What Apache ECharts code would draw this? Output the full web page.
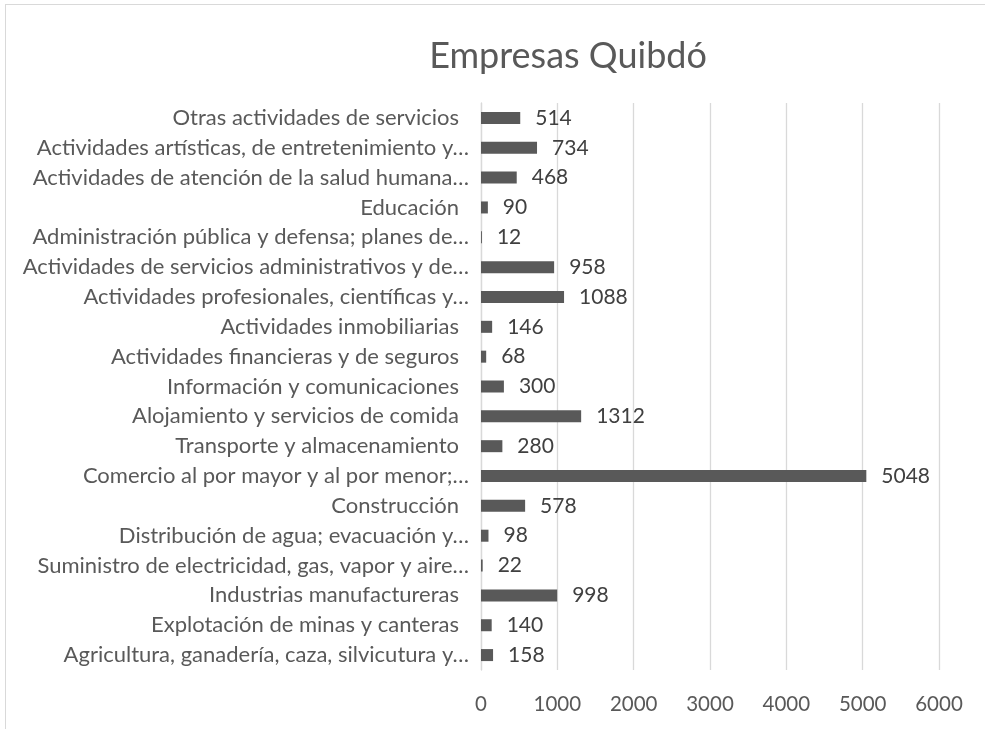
<!DOCTYPE html>
<html>
<head>
<meta charset="utf-8">
<script src="https://cdn.jsdelivr.net/npm/echarts@6/dist/echarts.min.js"></script>
<style>
html,body{margin:0;padding:0;background:#fff;}
#frame{position:absolute;left:5px;top:4px;width:990px;height:740px;border:1.5px solid #d9d9d9;box-sizing:border-box;}
#chart{position:absolute;left:0;top:0;width:985px;height:729px;}
</style>
</head>
<body>
<div id="frame"></div>
<div id="chart"></div>
<script>
const title = 'Empresas Quibdó';
// bottom-to-top order (as in the reference)
const categories = [
  'Agricultura, ganadería, caza, silvicutura y…',
  'Explotación de minas y canteras',
  'Industrias manufactureras',
  'Suministro de electricidad, gas, vapor y aire…',
  'Distribución de agua; evacuación y…',
  'Construcción',
  'Comercio al por mayor y al por menor;…',
  'Transporte y almacenamiento',
  'Alojamiento y servicios de comida',
  'Información y comunicaciones',
  'Actividades financieras y de seguros',
  'Actividades inmobiliarias',
  'Actividades profesionales, científicas y…',
  'Actividades de servicios administrativos y de…',
  'Administración pública y defensa; planes de…',
  'Educación',
  'Actividades de atención de la salud humana…',
  'Actividades artísticas, de entretenimiento y…',
  'Otras actividades de servicios'
];
const values = [158, 140, 998, 22, 98, 578, 5048, 280, 1312, 300, 68, 146, 1088, 958, 12, 90, 468, 734, 514];
const xTicks = [0, 1000, 2000, 3000, 4000, 5000, 6000];

const FONT = 'Lato';
const chart = echarts.init(document.getElementById('chart'));
chart.setOption({
  animation: false,
  backgroundColor: 'transparent',
  title: {
    text: title, left: 563, top: 33, textAlign: 'center',
    textStyle: {fontFamily: FONT, fontSize: 36, fontWeight: 'normal', color: '#595959'}
  },
  grid: {left: 481, right: 46, top: 103, bottom: 59, containLabel: false},
  xAxis: {
    type: 'value', min: xTicks[0], max: xTicks[xTicks.length - 1], interval: 1000,
    axisLine: {show: false}, axisTick: {show: false},
    splitLine: {show: true, lineStyle: {color: '#d9d9d9', width: 1.3}},
    axisLabel: {fontFamily: FONT, fontSize: 20.5, color: '#595959', margin: 24, formatter: v => String(v)}
  },
  yAxis: {
    type: 'category', data: categories,
    axisLine: {show: true, lineStyle: {color: '#d9d9d9', width: 1.3}},
    axisTick: {show: false},
    axisLabel: {
      fontFamily: FONT, fontSize: 22, color: '#595959', margin: 12, interval: 0,
      formatter: v => v.endsWith('…') ? v : '{p|' + v + '}',
      rich: {p: {fontFamily: FONT, fontSize: 22, color: '#595959', padding: [0, 10, 0, 0]}}
    }
  },
  series: [{
    type: 'bar', data: values, barWidth: 12,
    itemStyle: {color: '#595959'},
    label: {show: true, position: 'right', distance: 15, fontFamily: FONT, fontSize: 21, color: '#404040'}
  }]
});
</script>
</body>
</html>
